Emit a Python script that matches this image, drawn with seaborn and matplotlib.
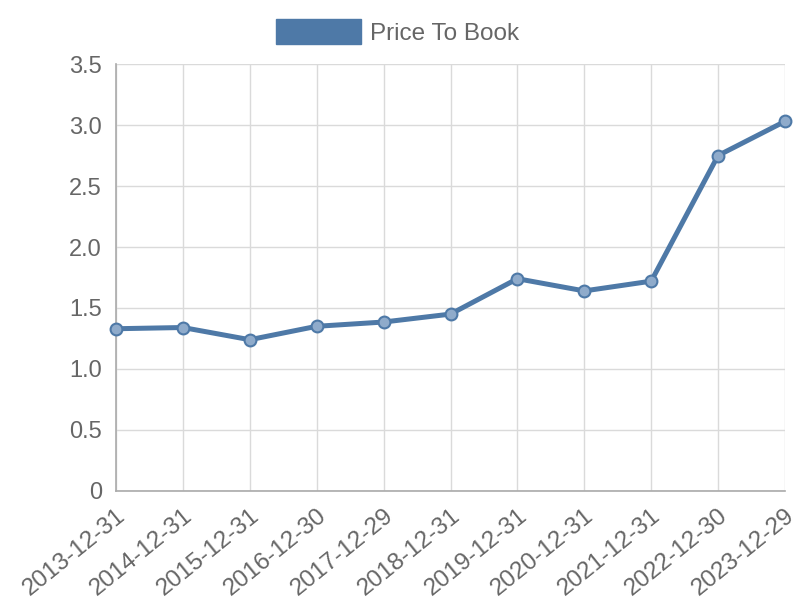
import pandas as pd
import matplotlib
matplotlib.use('Agg')
import matplotlib.pyplot as plt
from matplotlib.patches import Patch
import seaborn as sns

# data
dates = ['2013-12-31', '2014-12-31', '2015-12-31', '2016-12-30', '2017-12-29',
         '2018-12-31', '2019-12-31', '2020-12-31', '2021-12-31', '2022-12-30',
         '2023-12-29']
price_to_book = [1.33, 1.34, 1.24, 1.35, 1.385, 1.45, 1.74, 1.64, 1.72, 2.75, 3.03]
yticks = [0, 0.5, 1.0, 1.5, 2.0, 2.5, 3.0, 3.5]
ytick_labels = ['0', '0.5', '1.0', '1.5', '2.0', '2.5', '3.0', '3.5']

df = pd.DataFrame({'date': dates, 'value': price_to_book})

sns.set_style('white')
plt.rcParams['font.family'] = ['Liberation Sans', 'DejaVu Sans']

blue = '#4e79a7'
grey_text = '#666666'

fig = plt.figure(figsize=(8, 6), dpi=100)
ax = fig.add_axes([0.145, 0.1817, 0.83625, 0.7116])

sns.lineplot(data=df, x='date', y='value', ax=ax, color=blue, linewidth=3.6,
             marker='o', markersize=8.5, markerfacecolor='#8fabcb',
             markeredgecolor=blue, markeredgewidth=1.5, sort=False, zorder=3,
             clip_on=False)

ax.set_xlim(0, len(dates) - 1)
ax.set_ylim(0, 3.5)
ax.set_yticks(yticks)
ax.set_yticklabels(ytick_labels, fontsize=17)
ax.set_xticks(range(len(dates)))
ax.set_xticklabels(dates, rotation=39, ha='right', rotation_mode='anchor',
                   fontsize=17.5)

ax.grid(True, color='#dadada', linewidth=1)
ax.tick_params(axis='both', colors='#dadada', labelcolor=grey_text,
               length=8, width=1, direction='out', pad=2)
for side in ['top', 'right']:
    ax.spines[side].set_visible(False)
for side in ['left', 'bottom']:
    ax.spines[side].set_color('#aaaaaa')
    ax.spines[side].set_linewidth(1.2)
ax.set_xlabel('')
ax.set_ylabel('')
if ax.get_legend():
    ax.get_legend().remove()

fig.legend(handles=[Patch(facecolor=blue, edgecolor=blue, label='Price To Book')],
           loc='center', bbox_to_anchor=(0.497, 0.947), frameon=False,
           fontsize=17.5, labelcolor=grey_text, handlelength=3.5, handleheight=1.23,
           handletextpad=0.37)

fig.savefig('out.png', dpi=100)
